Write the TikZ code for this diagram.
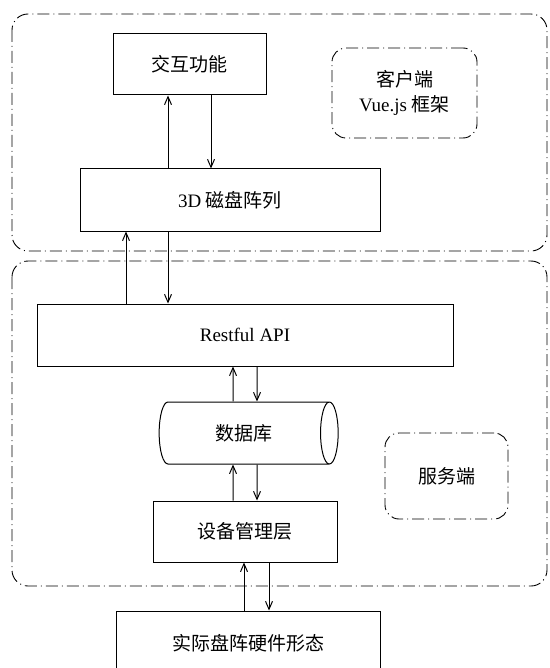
\documentclass[tikz,border=0pt]{standalone}
\usepackage{fontspec}
\setmainfont{Liberation Serif}
\newfontfamily\cjk{Noto Sans CJK SC}
\usetikzlibrary{shapes.geometric,arrows.meta}

\tikzset{
	layer/.style={rectangle, draw, line width=1pt, inner sep=0pt, font=\fontsize{19}{23}\selectfont},
	tag/.style={rectangle, draw, rounded corners=14pt, line width=0.9pt, dash pattern=on 12pt off 4pt on 1pt off 4pt, align=center, inner sep=0pt, font=\fontsize{19}{25}\selectfont},
	region/.style={draw, line width=0.9pt, rounded corners=16pt, dash pattern=on 12pt off 4pt on 1pt off 4pt},
	flow/.style={-{Straight Barb[length=8pt,width=7pt]}, line width=1pt}
}

\begin{document}
\begin{tikzpicture}[x=1pt, y=-1pt]
			\useasboundingbox (0,0) rectangle (549,668);
			% Frames
			\draw[region] (12,14) rectangle (547,251);
			\draw[region] (12,261) rectangle (547,586);
			% Nodes
			\node[layer, minimum width=153pt, minimum height=61pt] (func) at (189.5,64.5) {\cjk 交互功能};
			\node[layer, minimum width=300pt, minimum height=62pt] (disk) at (230,200) {3D {\cjk 磁盘阵列}};
			\node[layer, minimum width=416pt, minimum height=62pt] (api) at (245,335) {Restful API};
			\node[layer, cylinder, aspect=1, minimum width=62pt, minimum height=179pt] (db) at (244,433) {\cjk 数据库};
			\node[layer, minimum width=184pt, minimum height=61pt] (dev) at (245,531.5) {\cjk 设备管理层};
			\node[layer, minimum width=264pt, minimum height=64pt] (hw) at (248,643) {\cjk 实际盘阵硬件形态};
			\node[tag, minimum width=145pt, minimum height=90pt] (client) at (404.5,93) {{\cjk 客户端}\\Vue.js {\cjk 框架}};
			\node[tag, minimum width=123pt, minimum height=86pt] (server) at (446.5,476) {\cjk 服务端};
			% Connectors
			\draw[flow] ([xshift=-62pt]disk.north) -- ([xshift=-21.5pt]func.south);
			\draw[flow] ([xshift=21.5pt]func.south) -- ([xshift=-19pt]disk.north);
			\draw[flow] ([xshift=-119pt]api.north) -- ([xshift=-104pt]disk.south);
			\draw[flow] ([xshift=-62pt]disk.south) -- ([xshift=-77pt]api.north);
			\draw[flow] ([xshift=-11pt]db.north) -- ([xshift=-12pt]api.south);
			\draw[flow] ([xshift=12pt]api.south) -- ([xshift=13pt]db.north);
			\draw[flow] ([xshift=-12pt]dev.north) -- ([xshift=-11pt]db.south);
			\draw[flow] ([xshift=13pt]db.south) -- ([xshift=12pt]dev.north);
			\draw[flow] ([xshift=-4pt]hw.north) -- ([xshift=-1pt]dev.south);
			\draw[flow] ([xshift=24pt]dev.south) -- ([xshift=21pt]hw.north);
		\end{tikzpicture}
\end{document}
